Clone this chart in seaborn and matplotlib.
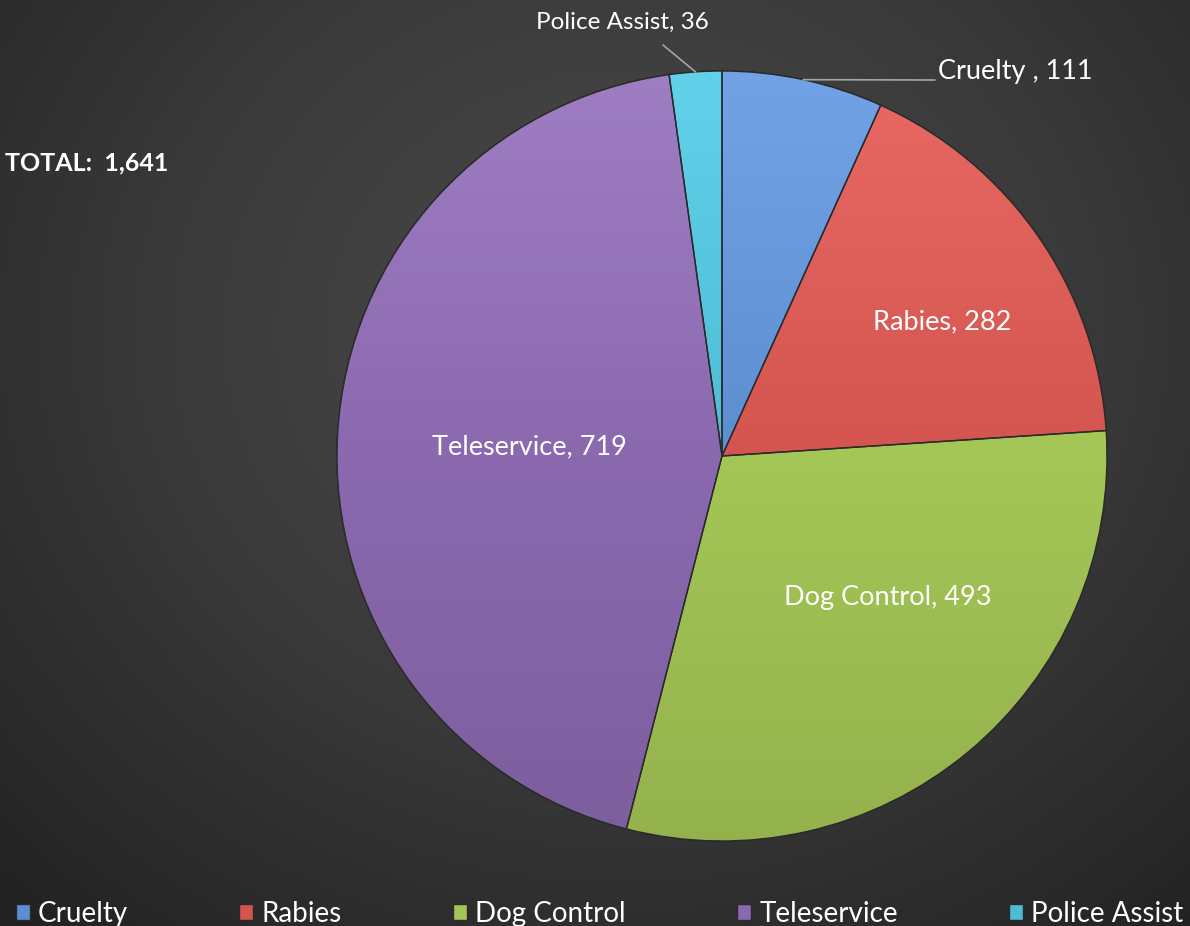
import numpy as np
import pandas as pd
import seaborn as sns
import matplotlib.pyplot as plt
from matplotlib.colors import LinearSegmentedColormap, to_rgb

# data
categories = ['Cruelty', 'Rabies', 'Dog Control', 'Teleservice', 'Police Assist']
counts = [111, 282, 493, 719, 36]
label_names = ['Cruelty ', 'Rabies', 'Dog Control', 'Teleservice', 'Police Assist']
total = sum(counts)

sns.set_theme(style='white')
plt.rcParams['font.family'] = ['Lato', 'DejaVu Sans']

colors = ['#5d8ed2', '#d4554f', '#a4c656', '#8a69af', '#4dbdd6']

W, H = 1190, 926
fig = plt.figure(figsize=(W / 100, H / 100), dpi=100)

############################
# background gradient
############################
bg = fig.add_axes([0, 0, 1, 1])
yy, xx = np.mgrid[0:H, 0:W]
d = np.sqrt(((xx - 620) / 900) ** 2 + ((yy - 330) / 800) ** 2)
bg_cmap = LinearSegmentedColormap.from_list('bg', ['#4b4b4b', '#3a3a3a', '#222222'])
bg.imshow(d, cmap=bg_cmap, vmin=0, vmax=1.0, extent=(0, W, H, 0), aspect='auto')
bg.set_xlim(0, W)
bg.set_ylim(H, 0)
bg.axis('off')

############################
# pie
############################
ax = fig.add_axes([0, 0, 1, 1])
ax.patch.set_alpha(0)
cx, cy, R = 722, 456, 385
wedges, _ = ax.pie(counts, colors=colors, startangle=-90, counterclock=True,
                   center=(cx, cy), radius=R, frame=True,
                   wedgeprops=dict(edgecolor='#2a2a2a', linewidth=1.0))

# shading on the wedges (lighter at the top)
gy, gx = np.mgrid[0:200, 0:200]
for w, c in zip(wedges, colors):
    base = np.array(to_rgb(c))
    light = np.clip(base + 0.08, 0, 1)
    dark = base * 0.9
    cm = LinearSegmentedColormap.from_list('w', [light, base, dark])
    im = ax.imshow(gy / 199.0, cmap=cm, extent=(cx - R, cx + R, cy + R, cy - R),
                   aspect='auto', zorder=w.get_zorder() + 0.1)
    im.set_clip_path(w)
    edge = plt.matplotlib.patches.Wedge((cx, cy), R, w.theta1, w.theta2,
                                        facecolor='none', edgecolor='#2a2a2a',
                                        linewidth=1.0, zorder=w.get_zorder() + 0.2)
    ax.add_patch(edge)

ax.set_xlim(0, W)
ax.set_ylim(H, 0)
ax.set_aspect('auto')
ax.axis('off')

# inside labels
inside = {1: (942, 322), 2: (888, 598), 3: (529, 447)}
for i, (x, y) in inside.items():
    ax.text(x, y, f'{label_names[i]}, {counts[i]}', color='white', fontsize=19.5,
            ha='center', va='center', zorder=10)

# outside labels with leader lines
def edge_point(i):
    th = np.deg2rad((wedges[i].theta1 + wedges[i].theta2) / 2)
    return cx + R * np.cos(th), cy + R * np.sin(th)

ex, ey = edge_point(0)
ax.plot([ex, 935], [ey, 80], color='#a6a6a6', lw=1.2, zorder=9)
ax.text(938, 72, f'{label_names[0]}, {counts[0]}', color='white', fontsize=19.5,
        ha='left', va='center', zorder=10)

ex, ey = edge_point(4)
ax.plot([ex, 663], [ey, 45], color='#a6a6a6', lw=1.2, zorder=9)
ax.text(622, 22, f'{label_names[4]}, {counts[4]}', color='white', fontsize=17.5,
        ha='center', va='center', zorder=10)

ax.text(5, 163, f'TOTAL:  {total:,}', color='white', fontsize=18,
        fontweight='bold', ha='left', va='center', zorder=10)

############################
# legend
############################
leg = fig.legend(wedges, categories, loc='lower left', ncol=5, mode='expand',
                 bbox_to_anchor=(0.004, -0.013, 1.0, 0.05), frameon=False,
                 fontsize=20, handlelength=0.5, handleheight=0.5,
                 handletextpad=0.3, labelcolor='white', borderaxespad=0)

fig.savefig('out.png', dpi=100, facecolor='#2e2e2e')
